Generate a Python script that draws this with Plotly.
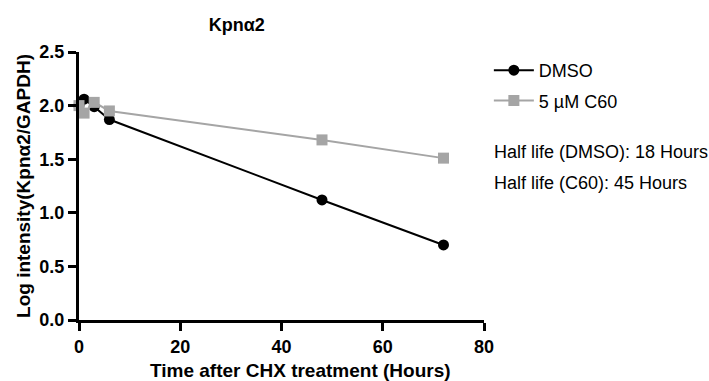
import plotly.graph_objects as go

# Time points (hours after CHX) and log intensity values
dmso_time = [0, 1, 3, 6, 48, 72]
dmso_log = [2.00, 2.06, 1.99, 1.87, 1.12, 0.70]
c60_time = [0, 1, 3, 6, 48, 72]
c60_log = [2.00, 1.93, 2.03, 1.95, 1.68, 1.51]

x_ticks = [0, 20, 40, 60, 80]
y_ticks = [0.0, 0.5, 1.0, 1.5, 2.0, 2.5]
half_life_notes = ["Half life (DMSO): 18 Hours", "Half life (C60): 45 Hours"]

FONT = "Liberation Sans, Arial, sans-serif"
GRAY = "#a5a5a5"

fig = go.Figure()
fig.add_trace(go.Scatter(
    x=dmso_time, y=dmso_log, name="DMSO", mode="lines+markers",
    legendgroup="dmso",
    line=dict(color="black", width=2),
    marker=dict(symbol="circle", size=11, color="black"),
    cliponaxis=False,
))
fig.add_trace(go.Scatter(
    x=c60_time, y=c60_log, name="5 µM C60", mode="lines+markers",
    legendgroup="c60",
    line=dict(color=GRAY, width=2),
    marker=dict(symbol="square", size=11, color=GRAY),
    cliponaxis=False,
))

for i, note in enumerate(half_life_notes):
    fig.add_annotation(
        x=1.02, y=0.627 - i * 0.116, xref="paper", yref="paper",
        text=note, showarrow=False, xanchor="left", yanchor="middle",
        font=dict(family=FONT, size=18, color="black"),
    )

# x-axis title, placed as text below the tick labels
fig.add_annotation(
    x=0.546, y=-0.19, xref="paper", yref="paper",
    text="Time after CHX treatment (Hours)", showarrow=False,
    xanchor="center", yanchor="middle",
    font=dict(family=FONT, size=19, color="black", weight="bold"),
)

axis_common = dict(
    showgrid=False, zeroline=False, showline=True, linecolor="black",
    linewidth=3, ticks="outside", ticklen=8, tickwidth=3, tickcolor="black",
    tickfont=dict(family=FONT, size=18, color="black", weight="bold"),
    automargin=False,
)

fig.update_layout(
    width=709, height=381,
    margin=dict(l=79, r=225, t=52, b=61),
    paper_bgcolor="white", plot_bgcolor="white",
    title=dict(text="Kpnα2", x=0.334, xanchor="center", y=0.934, yanchor="middle",
               font=dict(family=FONT, size=18, color="black", weight="bold")),
    xaxis=dict(range=[0, 80], tickvals=x_ticks, ticktext=[str(v) for v in x_ticks],
               **axis_common),
    yaxis=dict(range=[0, 2.5], tickvals=y_ticks, ticktext=[f"{v:.1f}" for v in y_ticks],
               title=dict(text="Log intensity(Kpnα2/GAPDH)", standoff=4,
                          font=dict(family=FONT, size=19, color="black", weight="bold")),
               **axis_common),
    legend=dict(x=1.012, y=1.0, xanchor="left", yanchor="top",
                traceorder="grouped", bgcolor="rgba(0,0,0,0)",
                font=dict(family=FONT, size=18, color="black"),
                itemwidth=40, tracegroupgap=4),
    showlegend=True,
)

fig.write_html("out.html")
